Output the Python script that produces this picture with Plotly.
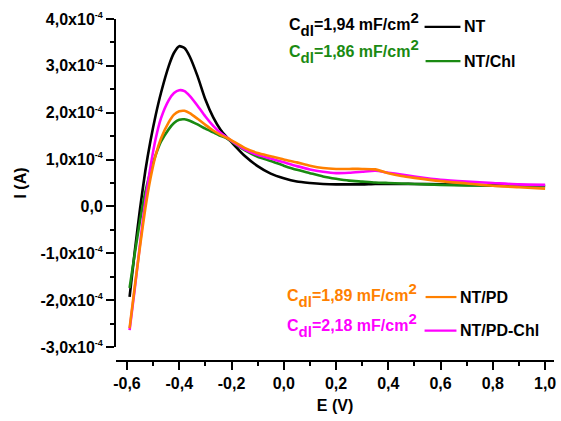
import plotly.graph_objects as go

# ---- data (current in units of 1e-4 A) ----
E = [-0.59, -0.57, -0.55, -0.53, -0.51, -0.49, -0.47, -0.44, -0.42, -0.40, -0.38, -0.36,
     -0.33, -0.30, -0.27, -0.24, -0.22, -0.20, -0.15, -0.10, -0.05, 0.00, 0.05, 0.10,
     0.15, 0.20, 0.25, 0.30, 0.35, 0.40, 0.45, 0.50, 0.60, 0.70, 0.80, 0.90, 1.00]

I_NT = [-1.93, -0.95, -0.05, 0.75, 1.40, 1.95, 2.42, 3.00, 3.28, 3.42, 3.38, 3.20,
        2.78, 2.28, 1.90, 1.62, 1.49, 1.37, 1.08, 0.86, 0.70, 0.60, 0.53, 0.50,
        0.48, 0.47, 0.47, 0.47, 0.48, 0.48, 0.48, 0.48, 0.47, 0.46, 0.45, 0.45, 0.44]

I_NT_Chl = [-1.74, -1.00, -0.30, 0.30, 0.75, 1.10, 1.38, 1.65, 1.78, 1.85, 1.86, 1.83,
            1.75, 1.66, 1.58, 1.50, 1.46, 1.38, 1.20, 1.06, 0.97, 0.87, 0.78, 0.71,
            0.64, 0.59, 0.55, 0.53, 0.51, 0.50, 0.49, 0.48, 0.46, 0.45, 0.44, 0.43, 0.43]

I_NT_PD_Chl = [-2.64, -1.75, -0.80, 0.10, 0.85, 1.45, 1.88, 2.27, 2.42, 2.48, 2.46, 2.36,
               2.15, 1.92, 1.72, 1.56, 1.48, 1.40, 1.22, 1.10, 1.02, 0.94, 0.86, 0.79,
               0.74, 0.71, 0.72, 0.74, 0.76, 0.72, 0.68, 0.64, 0.57, 0.53, 0.50, 0.47, 0.46]

I_NT_PD = [-2.60, -1.70, -0.85, -0.05, 0.60, 1.10, 1.45, 1.80, 1.96, 2.03, 2.04, 1.99,
           1.87, 1.74, 1.62, 1.52, 1.47, 1.41, 1.25, 1.14, 1.07, 1.00, 0.94, 0.87,
           0.82, 0.80, 0.80, 0.80, 0.79, 0.71, 0.65, 0.61, 0.54, 0.49, 0.44, 0.41, 0.38]

SCALE = 1e-4

series_names = ["NT", "NT/Chl", "NT/PD-Chl", "NT/PD"]
series_values = [I_NT, I_NT_Chl, I_NT_PD_Chl, I_NT_PD]
series_colors = ["#000000", "#1a8a12", "#ff00ff", "#ff8000"]
cdl_values = ["1,94", "1,86", "2,18", "1,89"]

y_tickvals = [-3e-4, -2e-4, -1e-4, 0, 1e-4, 2e-4, 3e-4, 4e-4]
y_ticklabels = ["-3,0x10", "-2,0x10", "-1,0x10", "0,0", "1,0x10", "2,0x10", "3,0x10", "4,0x10"]
x_tickvals = [-0.6, -0.4, -0.2, 0.0, 0.2, 0.4, 0.6, 0.8, 1.0]
x_ticktext = ["-0,6", "-0,4", "-0,2", "0,0", "0,2", "0,4", "0,6", "0,8", "1,0"]

FONT = "Liberation Sans, Arial, sans-serif"
SUP = '<sup><span style="font-size:9px">-4</span></sup>'
y_ticktext = [t if t == "0,0" else t + SUP for t in y_ticklabels]


def cdl_text(v):
    return ('C<sub><span style="font-size:15px;baseline-shift:-3px">dl</span></sub>=' + v +
            ' mF/cm<sup><span style="font-size:15px">2</span></sup>')


fig = go.Figure()
for name, vals, col in zip(series_names, series_values, series_colors):
    fig.add_trace(go.Scatter(
        x=E, y=[v * SCALE for v in vals], mode="lines", name=name,
        line=dict(color=col, width=2.6, shape="spline", smoothing=0.6),
        showlegend=False))

# legend built from annotations + short line shapes (paper coords)
# order: NT, NT/Chl, NT/PD-Chl, NT/PD
leg_text_y = [0.985, 0.905, 0.105, 0.192]
leg_line_y = [0.977, 0.877, 0.089, 0.187]
leg_text_x = [0.6955, 0.6955, 0.691, 0.691]
leg_line_x0 = [0.7045, 0.7068, 0.7045, 0.7068]
leg_line_x1 = [0.7864, 0.7864, 0.7773, 0.7773]
leg_name_x = [0.789, 0.789, 0.780, 0.780]

for i in range(4):
    fig.add_annotation(x=leg_text_x[i], y=leg_text_y[i], xref="paper", yref="paper",
                       text=cdl_text(cdl_values[i]), showarrow=False,
                       xanchor="right", yanchor="middle",
                       font=dict(family=FONT, size=16, color=series_colors[i], weight="bold"))
    fig.add_shape(type="line", xref="paper", yref="paper",
                  x0=leg_line_x0[i], x1=leg_line_x1[i], y0=leg_line_y[i], y1=leg_line_y[i],
                  line=dict(color=series_colors[i], width=2.2))
    fig.add_annotation(x=leg_name_x[i], y=leg_line_y[i], xref="paper", yref="paper",
                       text=series_names[i], showarrow=False, xanchor="left", yanchor="middle",
                       font=dict(family=FONT, size=16, color="black", weight="bold"))

fig.update_layout(
    width=561, height=421,
    margin=dict(l=116, r=5, t=19, b=60),
    paper_bgcolor="white", plot_bgcolor="white",
    font=dict(family=FONT, color="black"),
    xaxis=dict(
        range=[-0.642, 1.034], anchor="free", position=0,
        tickmode="array", tickvals=x_tickvals, ticktext=x_ticktext,
        ticks="outside", ticklen=8, tickwidth=1.8, tickcolor="black",
        minor=dict(tickmode="linear", tick0=0, dtick=0.1, ticks="outside",
                   ticklen=4, tickwidth=1.8, tickcolor="black", showgrid=False),
        showline=True, linecolor="black", linewidth=2,
        showgrid=False, zeroline=False,
        tickfont=dict(family=FONT, size=16, color="black", weight="bold"),
        title=dict(text="E (V)", font=dict(family=FONT, size=16, color="black", weight="bold"),
                   standoff=8),
    ),
    yaxis=dict(
        range=[-3e-4, 4e-4], domain=[0.041, 1],
        tickmode="array", tickvals=y_tickvals, ticktext=y_ticktext,
        ticks="outside", ticklen=8, tickwidth=1.8, tickcolor="black",
        minor=dict(tickmode="linear", tick0=0, dtick=0.5e-4, ticks="outside",
                   ticklen=4, tickwidth=1.8, tickcolor="black", showgrid=False),
        showline=True, linecolor="black", linewidth=2,
        showgrid=False, zeroline=False,
        tickfont=dict(family=FONT, size=16, color="black", weight="bold"),
        title=dict(text="I (A)", font=dict(family=FONT, size=16, color="black", weight="bold"),
                   standoff=10),
    ),
)

fig.write_html("out.html")
